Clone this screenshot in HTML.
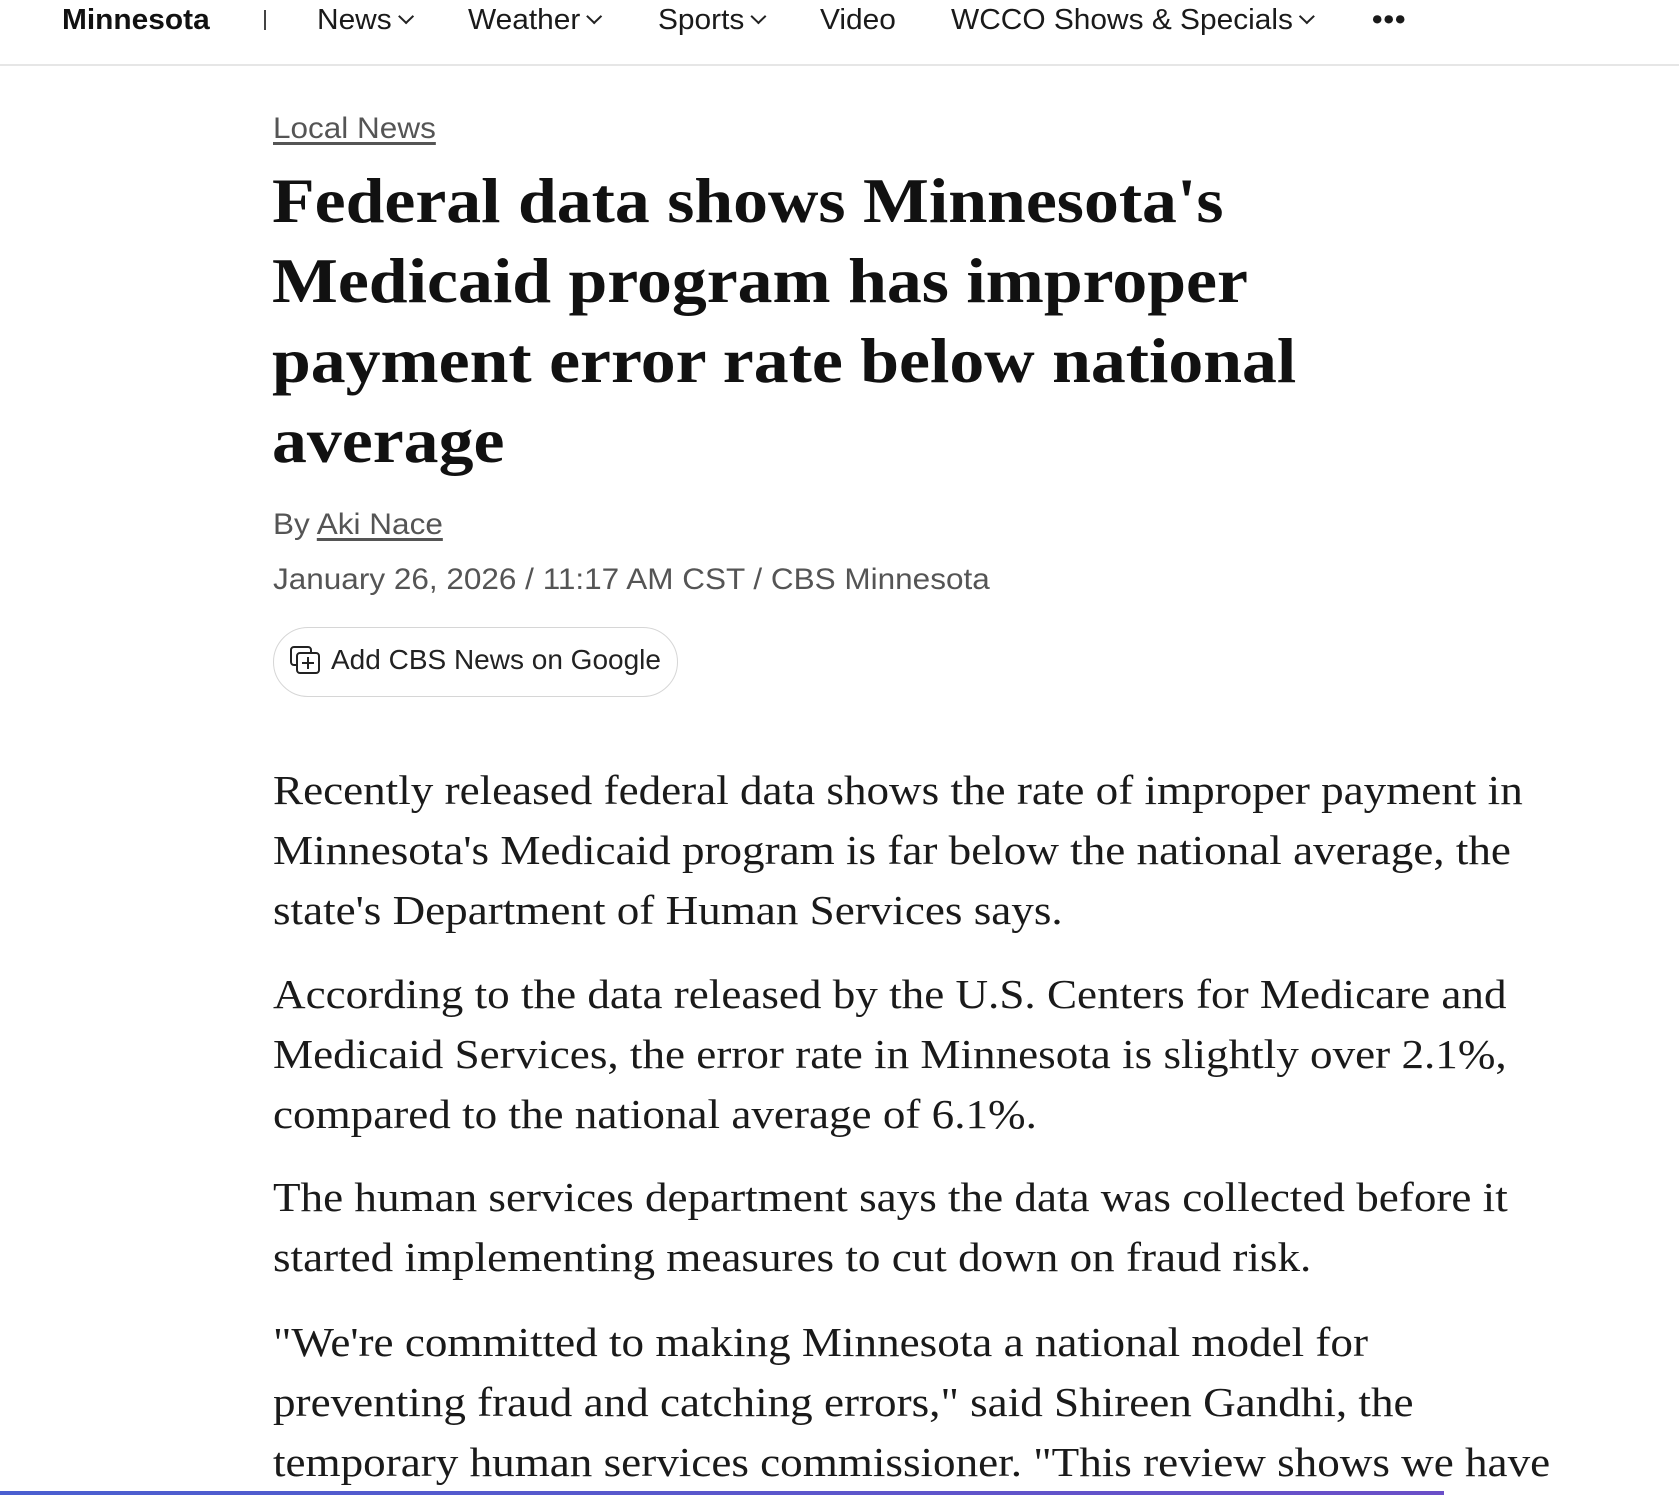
<!DOCTYPE html>
<html><head><meta charset="utf-8"><style>
html,body{margin:0;padding:0;background:#fff;width:1679px;height:1495px;overflow:hidden;position:relative}
.a{position:absolute;white-space:nowrap}
.nav{font-family:"Liberation Sans",sans-serif;font-size:29px;color:#1a1a1a;top:2px;line-height:36px;transform:scaleX(1.03);transform-origin:left}
.chev{display:inline-block;width:9px;height:9px;border-right:2.5px solid #222;border-bottom:2.5px solid #222;transform:rotate(45deg);margin-left:8px;position:relative;top:-7px}
.h{font-family:"Liberation Serif",serif;font-weight:bold;font-size:64px;color:#111;left:272px;line-height:80px;transform:scaleX(1.09);transform-origin:left}
.p{font-family:"Liberation Serif",serif;font-size:41px;color:#1a1a1a;left:273px;line-height:60px;transform:scaleX(1.1);transform-origin:left}
.meta{font-family:"Liberation Sans",sans-serif;font-size:30px;color:#555;left:273px;transform:scaleX(1.05);transform-origin:left}
</style></head><body>
<div class="a nav" style="left:62px;font-weight:bold;color:#111">Minnesota</div>
<div class="a" style="left:264px;top:10px;width:1.5px;height:20px;background:#444"></div>
<div class="a nav" style="left:317px">News<span class="chev"></span></div>
<div class="a nav" style="left:468px">Weather<span class="chev"></span></div>
<div class="a nav" style="left:658px">Sports<span class="chev"></span></div>
<div class="a nav" style="left:820px">Video</div>
<div class="a nav" style="left:951px">WCCO Shows &amp; Specials<span class="chev"></span></div>
<div class="a nav" style="left:1372px;font-weight:bold;letter-spacing:1px">•••</div>
<div class="a" style="left:0;top:64px;width:1679px;height:2px;background:#e6e6e6"></div>

<div class="a meta" style="top:112px;text-decoration:underline;text-underline-offset:4px;color:#555">Local News</div>

<div class="a h" style="top:161px">Federal data shows Minnesota's</div>
<div class="a h" style="top:241px">Medicaid program has improper</div>
<div class="a h" style="top:321px">payment error rate below national</div>
<div class="a h" style="top:401px">average</div>

<div class="a meta" style="top:508px">By <span style="text-decoration:underline;text-underline-offset:4px">Aki Nace</span></div>
<div class="a meta" style="top:563px">January 26, 2026 / 11:17 AM CST / CBS Minnesota</div>

<div class="a" style="left:273px;top:627px;width:405px;height:70px;border:1.5px solid #d6d6d6;border-radius:36px;box-sizing:border-box"></div>
<svg class="a" style="left:290px;top:646px" width="32" height="30" viewBox="0 0 32 30"><rect x="1" y="1" width="20" height="18" rx="3" fill="none" stroke="#222" stroke-width="2"/><rect x="7" y="7" width="22" height="20" rx="3" fill="#fff" stroke="#222" stroke-width="2"/><path d="M18 11v12M12 17h12" stroke="#222" stroke-width="2"/></svg>
<div class="a" style="left:331px;top:644px;color:#222;font-size:28px;font-family:'Liberation Sans',sans-serif">Add CBS News on Google</div>

<div class="a p" style="top:760px">Recently released federal data shows the rate of improper payment in</div>
<div class="a p" style="top:820px">Minnesota's Medicaid program is far below the national average, the</div>
<div class="a p" style="top:880px">state's Department of Human Services says.</div>

<div class="a p" style="top:964px">According to the data released by the U.S. Centers for Medicare and</div>
<div class="a p" style="top:1024px">Medicaid Services, the error rate in Minnesota is slightly over 2.1%,</div>
<div class="a p" style="top:1084px">compared to the national average of 6.1%.</div>

<div class="a p" style="top:1167px">The human services department says the data was collected before it</div>
<div class="a p" style="top:1227px">started implementing measures to cut down on fraud risk.</div>

<div class="a p" style="top:1312px">"We're committed to making Minnesota a national model for</div>
<div class="a p" style="top:1372px">preventing fraud and catching errors," said Shireen Gandhi, the</div>
<div class="a p" style="top:1432px">temporary human services commissioner. "This review shows we have</div>

<div class="a" style="left:0;top:1491px;width:1444px;height:4px;background:linear-gradient(90deg,#4a5fd0,#6a4fc8)"></div>
</body></html>
